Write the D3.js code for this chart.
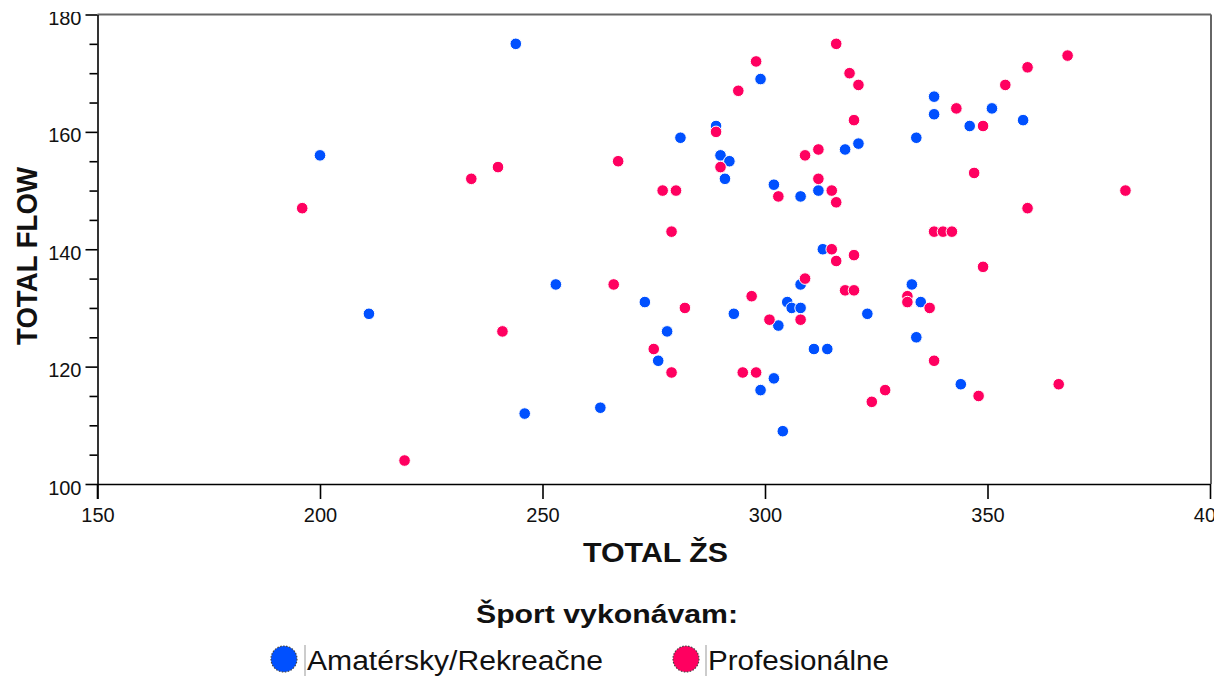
<!DOCTYPE html>
<html>
<head>
<meta charset="utf-8">
<script src="https://cdn.jsdelivr.net/npm/d3@7"></script>
<style>
  html, body { margin: 0; padding: 0; background: #fff; }
  svg { display: block; font-family: "Liberation Sans", Arial, sans-serif; }
</style>
</head>
<body>
<svg id="chart" width="1224" height="681"></svg>
<script>
// ---- data ----
const categories = ["Amatérsky/Rekreačne", "Profesionálne"];
const colors = ["#0050ff", "#ff0060"];

const amaterX = [244,200,281,299,289,290,292,291,302,308,318,321,312,334,338,338,346,351,358,313,
                 211,246,253,263,273,278,276,308,293,305,306,308,303,323,333,335,334,311,314,302,299,304,344];
const amaterY = [175,156,159,169,161,156,155,152,151,149,157,158,150,159,166,163,161,164,162,140,
                 129,112,134,113,131,126,121,134,129,131,130,130,127,129,134,131,125,123,123,118,116,109,117];

const profX = [196,234,240,267,277,280,279,316,298,294,319,321,320,289,290,303,309,312,312,315,316,
               343,349,354,359,368,347,381,359,338,340,342,315,219,241,266,282,275,279,316,320,349,
               309,297,301,308,318,320,332,332,337,338,295,298,327,324,348,366];
const profY = [147,152,154,155,150,150,143,175,172,167,170,168,162,160,154,149,156,157,152,150,148,
               164,161,168,171,173,153,150,147,143,143,143,140,104,126,134,130,123,119,138,139,137,
               135,132,128,128,133,133,132,131,130,121,119,119,116,114,115,117];

const xTicks = [150, 200, 250, 300, 350, 400];
const yTicks = [100, 120, 140, 160, 180];
const yMinorTicks = [105, 110, 115, 125, 130, 135, 145, 150, 155, 165, 170, 175];

const xTitle = "TOTAL ŽS";
const yTitle = "TOTAL FLOW";
const legendTitle = "Šport vykonávam:";

// ---- layout ----
const svg = d3.select("#chart");
const x = d3.scaleLinear().domain([150, 400]).range([97.5, 1210]);
const y = d3.scaleLinear().domain([100, 180]).range([484, 14.5]);

svg.append("rect").attr("width", 1224).attr("height", 681).attr("fill", "#fff");

const defs = svg.append("defs");
defs.append("clipPath").attr("id", "lblclip")
  .append("rect").attr("x", 0).attr("y", 12).attr("width", 1214).attr("height", 669);

// frame (top and right)
svg.append("line").attr("x1", x(150)).attr("x2", x(400) + 1).attr("y1", y(180)).attr("y2", y(180))
  .attr("stroke", "#666").attr("stroke-width", 2);
svg.append("line").attr("x1", x(400) + 1).attr("x2", x(400) + 1).attr("y1", y(180)).attr("y2", y(100))
  .attr("stroke", "#666").attr("stroke-width", 2);

const axesG = svg.append("g").attr("clip-path", "url(#lblclip)");

// x axis
const gx = axesG.append("g").attr("transform", `translate(0,${y(100)})`)
  .call(d3.axisBottom(x).tickValues(xTicks).tickSize(15).tickSizeOuter(0).tickPadding(9));
gx.selectAll("text").attr("font-size", 20).attr("fill", "#111").attr("font-family", "Liberation Sans, Arial, sans-serif");
gx.selectAll("line, path").attr("stroke", "#000").attr("stroke-width", 1.6);

// y axis minor
const gym = axesG.append("g").attr("transform", `translate(${x(150)},0)`)
  .call(d3.axisLeft(y).tickValues(yMinorTicks).tickSize(8).tickSizeOuter(0).tickFormat(""));
gym.selectAll("line").attr("stroke", "#000").attr("stroke-width", 1.6);
gym.select("path").remove();

// y axis major
const gy = axesG.append("g").attr("transform", `translate(${x(150)},0)`)
  .call(d3.axisLeft(y).tickValues(yTicks).tickSize(12).tickSizeOuter(0).tickPadding(4));
gy.selectAll("text").attr("font-size", 20).attr("fill", "#111").attr("dy", "0.5em")
  .attr("font-family", "Liberation Sans, Arial, sans-serif");
gy.selectAll("line, path").attr("stroke", "#000").attr("stroke-width", 1.6);
// extend y axis line down to tick bottom
svg.append("line").attr("x1", x(150)).attr("x2", x(150)).attr("y1", y(100)).attr("y2", y(100) + 15)
  .attr("stroke", "#000").attr("stroke-width", 1.6);

// points
const series = [
  { xs: amaterX, ys: amaterY, color: colors[0] },
  { xs: profX, ys: profY, color: colors[1] }
];
series.forEach(s => {
  svg.append("g").selectAll("circle")
    .data(s.xs.map((v, i) => [v, s.ys[i]]))
    .join("circle")
    .attr("cx", d => x(d[0]))
    .attr("cy", d => y(d[1]))
    .attr("r", 5.8)
    .attr("fill", s.color)
    .attr("stroke", "#fff")
    .attr("stroke-width", 1);
});

// titles
svg.append("text").attr("x", 655.5).attr("y", 562).attr("text-anchor", "middle")
  .attr("font-size", 28).attr("font-weight", "bold").attr("fill", "#111")
  .attr("textLength", 145).attr("lengthAdjust", "spacingAndGlyphs").text(xTitle);

svg.append("text").attr("transform", "translate(37,256) rotate(-90)").attr("text-anchor", "middle")
  .attr("font-size", 29).attr("font-weight", "bold").attr("fill", "#111")
  .attr("textLength", 178).attr("lengthAdjust", "spacingAndGlyphs").text(yTitle);

svg.append("text").attr("x", 607).attr("y", 623).attr("text-anchor", "middle")
  .attr("font-size", 25).attr("font-weight", "bold").attr("fill", "#111")
  .attr("textLength", 262).attr("lengthAdjust", "spacingAndGlyphs").text(legendTitle);

// legend
const legendItems = [
  { cx: 284, tx: 307, tl: 296 },
  { cx: 686, tx: 708, tl: 181 }
];
legendItems.forEach((li, i) => {
  svg.append("circle").attr("cx", li.cx).attr("cy", 659).attr("r", 13)
    .attr("fill", colors[i]).attr("stroke", "#444").attr("stroke-width", 1.2)
    .attr("stroke-dasharray", "1.5,1.5");
  svg.append("line").attr("x1", li.tx - 2).attr("x2", li.tx - 2).attr("y1", 645).attr("y2", 676)
    .attr("stroke", "#999").attr("stroke-width", 1);
  svg.append("text").attr("x", li.tx).attr("y", 670)
    .attr("font-size", 27).attr("fill", "#111")
    .attr("textLength", li.tl).attr("lengthAdjust", "spacingAndGlyphs")
    .text(categories[i]);
});
</script>
</body>
</html>
